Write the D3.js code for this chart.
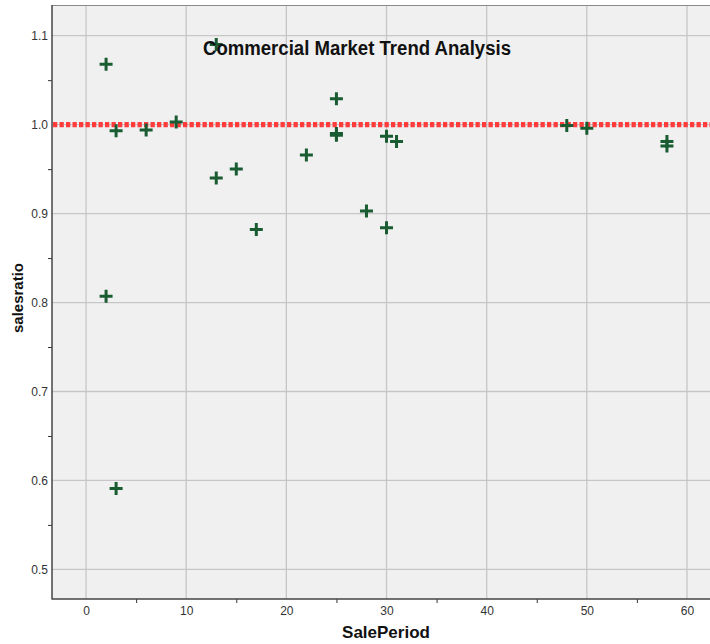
<!DOCTYPE html>
<html>
<head>
<meta charset="utf-8">
<script src="https://cdn.jsdelivr.net/npm/d3@7"></script>
<style>
  html, body { margin: 0; padding: 0; background: #ffffff; }
  svg { display: block; font-family: "Liberation Sans", Arial, sans-serif; }
</style>
</head>
<body>
<svg id="chart" width="710" height="644"></svg>
<script>
// ---- data ----
const salePeriod = [2, 3, 6, 9, 13, 13, 15, 17, 22, 25, 25, 25, 28, 30, 30, 31, 48, 50, 58, 58, 2, 3];
const salesRatio = [1.068, 0.993, 0.994, 1.003, 1.090, 0.940, 0.950, 0.882, 0.966, 1.029, 0.990, 0.988, 0.903, 0.987, 0.884, 0.981, 0.999, 0.996, 0.981, 0.976, 0.807, 0.591];
const xTicks = [0, 10, 20, 30, 40, 50, 60];
const xMinorTicks = [5, 15, 25, 35, 45, 55];
const yTicks = [0.5, 0.6, 0.7, 0.8, 0.9, 1.0, 1.1];
const yMinorTicks = [0.55, 0.65, 0.75, 0.85, 0.95, 1.05];
const referenceValue = [1.0];
const titleText = "Commercial Market Trend Analysis";
const xTitle = "SalePeriod";
const yTitle = "salesratio";

(function () {
// ---- layout ----
const svg = d3.select("#chart");
const pL = 52, pR = 710, pT = 5, pB = 599;

const x = d3.scaleLinear().domain([-3.4, 62.3]).range([pL, pR]);
const y = d3.scaleLinear().domain([0.4667, 1.1345]).range([pB, pT]);

// plot background
svg.append("rect")
  .attr("x", pL).attr("y", pT)
  .attr("width", pR - pL).attr("height", pB - pT)
  .attr("fill", "#f0f0f0");

// top border
svg.append("line")
  .attr("x1", pL).attr("x2", pR).attr("y1", pT + 0.5).attr("y2", pT + 0.5)
  .attr("stroke", "#8a8a8a").attr("stroke-width", 1);

// grid lines
svg.append("g").selectAll("line").data(xTicks).join("line")
  .attr("x1", d => x(d)).attr("x2", d => x(d))
  .attr("y1", pT + 1).attr("y2", pB)
  .attr("stroke", "#c6c6c6").attr("stroke-width", 1.3);
svg.append("g").selectAll("line").data(yTicks).join("line")
  .attr("x1", pL).attr("x2", pR)
  .attr("y1", d => y(d)).attr("y2", d => y(d))
  .attr("stroke", "#c6c6c6").attr("stroke-width", 1.3);

// reference line
svg.append("g").selectAll("line").data(referenceValue).join("line")
  .attr("x1", pL + 1).attr("x2", pR)
  .attr("y1", d => y(d)).attr("y2", d => y(d))
  .attr("stroke", "#ff3b3b").attr("stroke-width", 5.3)
  .attr("stroke-dasharray", "4.3,2.2");

// axes
const xAxis = d3.axisBottom(x).tickValues(xTicks).tickSize(0).tickPadding(7).tickFormat(d3.format("d"));
const gx = svg.append("g").attr("transform", `translate(0,${pB})`).call(xAxis);
gx.select(".domain").remove();
gx.selectAll("text").attr("font-size", 12).attr("fill", "#333").attr("font-family", "Liberation Sans, Arial, sans-serif");

const xMinor = d3.axisBottom(x).tickValues(xMinorTicks).tickSize(4).tickFormat("");
const gxm = svg.append("g").attr("transform", `translate(0,${pB})`).call(xMinor);
gxm.select(".domain").remove();
gxm.selectAll("line").attr("stroke", "#333");

const yAxis = d3.axisLeft(y).tickValues(yTicks).tickSize(0).tickPadding(4).tickFormat(d3.format(".1f"));
const gy = svg.append("g").attr("transform", `translate(${pL},0)`).call(yAxis);
gy.select(".domain").remove();
gy.selectAll("text").attr("font-size", 12).attr("fill", "#333").attr("font-family", "Liberation Sans, Arial, sans-serif");

const yMinor = d3.axisLeft(y).tickValues(yMinorTicks).tickSize(4).tickFormat("");
const gym = svg.append("g").attr("transform", `translate(${pL},0)`).call(yMinor);
gym.select(".domain").remove();
gym.selectAll("line").attr("stroke", "#333");

// axis lines
svg.append("line").attr("x1", pL).attr("x2", pL).attr("y1", pT).attr("y2", pB + 0.5)
  .attr("stroke", "#444").attr("stroke-width", 1.5);
svg.append("line").attr("x1", pL).attr("x2", pR).attr("y1", pB).attr("y2", pB)
  .attr("stroke", "#444").attr("stroke-width", 1.5);

// points (plus markers)
const pts = salePeriod.map((d, i) => ({ x: d, y: salesRatio[i] }));
svg.append("g").selectAll("path").data(pts).join("path")
  .attr("transform", d => `translate(${x(d.x)},${y(d.y)})`)
  .attr("d", "M-6.5,0H6.5M0,-6.5V6.5")
  .attr("stroke", "#1a5c32").attr("stroke-width", 3).attr("fill", "none");

// title
svg.append("text")
  .attr("x", 357).attr("y", 55)
  .attr("text-anchor", "middle")
  .attr("font-size", 20).attr("font-weight", "bold").attr("fill", "#111")
  .attr("textLength", 308).attr("lengthAdjust", "spacingAndGlyphs")
  .text(titleText);

// axis titles
svg.append("text")
  .attr("x", 386).attr("y", 638)
  .attr("text-anchor", "middle")
  .attr("font-size", 17).attr("font-weight", "bold").attr("fill", "#111")
  .text(xTitle);

svg.append("text")
  .attr("transform", "translate(23,298) rotate(-90)")
  .attr("text-anchor", "middle")
  .attr("font-size", 15).attr("font-weight", "bold").attr("fill", "#111")
  .text(yTitle);
})();
</script>
</body>
</html>
